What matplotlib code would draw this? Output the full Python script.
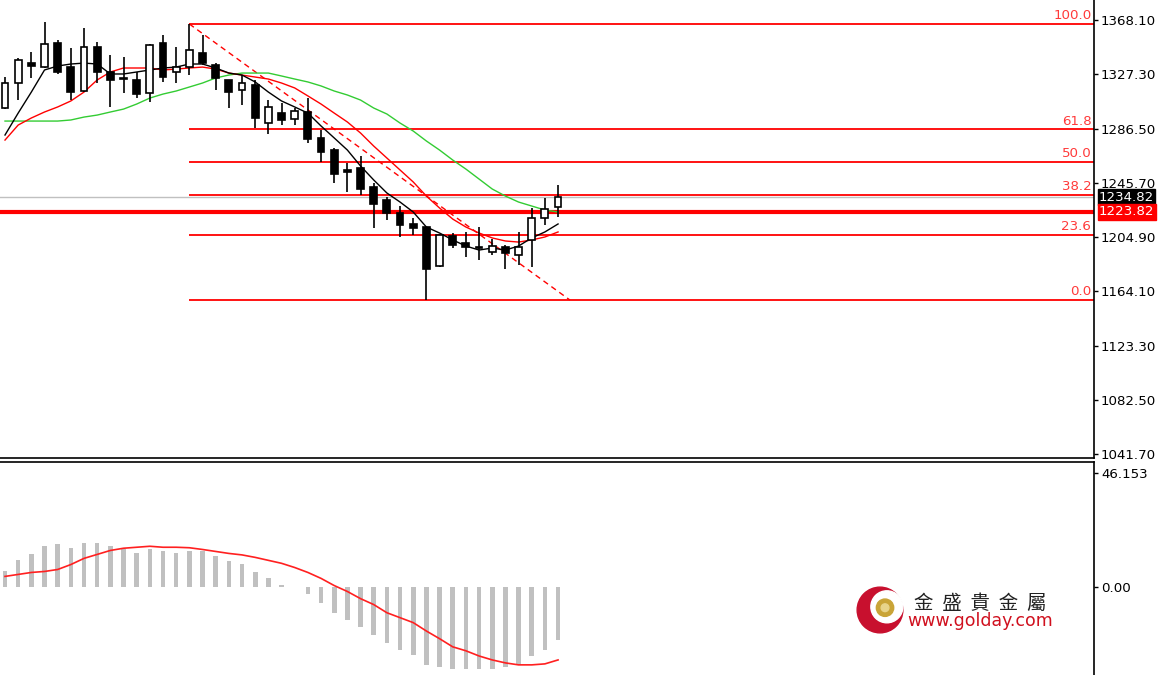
import numpy as np
import matplotlib.pyplot as plt
from matplotlib.patches import Circle

# candles (open, high, low, close)
opens = [1301.9, 1320.7, 1335.8, 1332.8, 1350.8, 1332.8, 1314.7, 1347.8, 1329.0, 1324.5,
         1323.0, 1313.2, 1350.8, 1329.0, 1332.8, 1343.3, 1334.3, 1323.0, 1315.5, 1319.2,
         1290.6, 1298.2, 1293.7, 1298.9, 1279.4, 1270.3, 1255.3, 1256.8, 1242.5, 1232.7,
         1222.9, 1214.7, 1212.4, 1183.1, 1205.7, 1200.4, 1197.4, 1193.6, 1197.4, 1191.4,
         1202.7, 1219.2, 1227.5]
highs = [1325.2, 1339.5, 1344.0, 1366.6, 1353.1, 1347.0, 1362.1, 1351.6, 1341.8, 1340.3,
         1329.0, 1350.0, 1356.8, 1347.8, 1365.1, 1356.8, 1335.8, 1323.0, 1326.7, 1323.0,
         1307.9, 1305.7, 1301.9, 1309.4, 1285.4, 1271.8, 1260.6, 1265.8, 1245.5, 1235.0,
         1228.2, 1219.2, 1212.4, 1206.4, 1207.9, 1208.7, 1212.4, 1203.4, 1198.9, 1208.7,
         1226.7, 1234.2, 1244.0]
lows = [1301.0, 1307.9, 1324.5, 1332.0, 1327.5, 1307.9, 1314.0, 1320.7, 1302.7, 1313.2,
        1309.4, 1306.4, 1321.5, 1320.7, 1326.7, 1334.3, 1315.5, 1301.9, 1304.2, 1286.9,
        1282.4, 1289.1, 1289.1, 1275.6, 1261.3, 1245.5, 1238.8, 1236.5, 1211.7, 1217.7,
        1204.9, 1206.4, 1157.5, 1182.4, 1196.6, 1189.9, 1187.6, 1191.4, 1180.9, 1183.9,
        1182.4, 1213.9, 1219.9]
closes = [1320.7, 1338.0, 1333.5, 1350.0, 1329.0, 1313.9, 1347.8, 1329.0, 1323.0, 1323.7,
          1312.5, 1349.3, 1325.2, 1332.8, 1345.5, 1335.8, 1324.5, 1313.9, 1320.7, 1294.4,
          1302.7, 1292.9, 1299.7, 1278.6, 1268.8, 1252.3, 1253.8, 1241.0, 1229.7, 1222.9,
          1213.9, 1211.7, 1180.9, 1206.4, 1198.9, 1197.4, 1196.6, 1198.1, 1192.9, 1197.4,
          1219.2, 1226.0, 1234.8]

# moving averages as drawn
ma_black = [1281.6, 1298.1, 1313.9, 1330.5, 1333.5, 1335.0, 1335.7, 1335.0, 1327.5, 1327.5,
            1329.0, 1330.5, 1332.0, 1332.7, 1335.0, 1335.0, 1332.0, 1328.2, 1326.7, 1321.5,
            1313.9, 1307.2, 1302.7, 1298.1, 1288.4, 1279.4, 1270.3, 1258.3, 1247.8, 1238.0,
            1231.2, 1223.7, 1212.4, 1207.9, 1202.7, 1198.1, 1195.1, 1196.6, 1195.1, 1198.1,
            1204.2, 1208.7, 1214.7]
ma_red = [1277.8, 1289.1, 1294.4, 1298.9, 1302.7, 1307.2, 1313.9, 1323.0, 1329.0, 1332.0,
          1332.0, 1332.0, 1330.5, 1331.2, 1332.0, 1332.7, 1331.2, 1328.2, 1326.7, 1325.2,
          1323.7, 1320.7, 1317.0, 1311.0, 1304.9, 1298.1, 1291.4, 1283.1, 1273.3, 1264.3,
          1255.3, 1246.3, 1235.7, 1226.7, 1218.4, 1212.4, 1207.9, 1204.2, 1201.9, 1201.1,
          1202.7, 1204.9, 1208.7]
ma_green = [1292.1, 1292.1, 1292.1, 1292.1, 1292.1, 1292.9, 1295.1, 1296.6, 1298.9, 1301.1,
            1304.9, 1309.4, 1312.4, 1314.7, 1317.7, 1320.7, 1324.5, 1326.7, 1328.2, 1328.2,
            1328.2, 1326.0, 1323.7, 1321.5, 1318.5, 1314.7, 1311.7, 1307.9, 1301.9, 1297.4,
            1290.6, 1284.6, 1277.1, 1270.3, 1262.8, 1256.0, 1248.5, 1241.0, 1235.7, 1231.2,
            1228.2, 1225.2, 1223.7]

# MACD histogram and signal
macd = [6.4, 10.8, 13.5, 16.6, 17.6, 15.9, 18.0, 18.0, 16.6, 15.2,
        13.9, 15.2, 14.6, 13.9, 14.6, 14.6, 12.5, 10.5, 9.4, 6.0,
        3.7, 1.0, 0.2, -3.0, -6.3, -10.4, -13.2, -16.1, -19.3, -22.6,
        -25.4, -27.4, -31.5, -32.3, -33.1, -33.1, -33.1, -33.1, -32.3, -31.5,
        -27.9, -25.4, -21.3]
signal = [4.3, 5.1, 5.9, 6.3, 7.1, 9.1, 11.6, 13.2, 14.8, 15.7,
          16.1, 16.5, 16.1, 16.1, 15.9, 15.2, 14.4, 13.6, 13.0, 12.0,
          10.8, 9.6, 7.9, 5.9, 3.5, 0.6, -1.8, -4.7, -7.1, -10.4,
          -12.4, -14.4, -17.8, -20.9, -24.2, -25.8, -27.9, -29.5, -30.7, -31.5,
          -31.5, -31.1, -29.5]

fib_levels = [0.0, 23.6, 38.2, 50.0, 61.8, 100.0]
fib_low, fib_high = 1157.5, 1365.1
fib_start = 14
price_ticks = [1368.10, 1327.30, 1286.50, 1245.70, 1204.90, 1164.10, 1123.30, 1082.50, 1041.70]
bid, line_price = 1234.82, 1223.82

W, H = 1161, 675
fig = plt.figure(figsize=(W / 100, H / 100), dpi=100)
fig.patch.set_facecolor('white')

ax = fig.add_axes([0, (H - 458) / H, 1094 / W, 458 / H])
ax2 = fig.add_axes([0, 0, 1094 / W, (H - 462) / H])

x = np.arange(len(opens))
xlim = (-0.38, 82.7)
lab = 9.6

# fib / horizontal lines
ax.axhline(bid, color='#c0c0c0', lw=1, zorder=1)
for lv in fib_levels:
    p = fib_low + (fib_high - fib_low) * lv / 100
    ax.hlines(p, fib_start, xlim[1], color='red', lw=1.3, zorder=2)
    ax.text(xlim[1] - 0.2, p + 1.2, f'{lv:.1f}', color='#ff3a3a', ha='right', va='bottom',
            fontsize=lab, zorder=5)
ax.axhline(line_price, color='red', lw=3, zorder=2)
ax.plot([fib_start, 42.9], [fib_high, fib_low], color='red', lw=1, ls=(0, (4, 3)), zorder=2)

# moving averages
ax.plot(x, ma_green, color='#33cc33', lw=1, zorder=3)
ax.plot(x, ma_red, color='red', lw=1, zorder=3)
ax.plot(x, ma_black, color='black', lw=1, zorder=3)

# candles
o = np.array(opens); c = np.array(closes)
ax.vlines(x, lows, highs, color='black', lw=1.2, zorder=4)
bottom = np.minimum(o, c)
height = np.maximum(np.abs(c - o), 0.8)
face = ['white' if cc >= oo else 'black' for oo, cc in zip(o, c)]
ax.bar(x, height, bottom=bottom, width=0.52, color=face, edgecolor='black', lw=1.2, zorder=5)

ax.set_xlim(*xlim)
ax.set_ylim(1038.7, 1383.14)
ax.set_xticks([])
ax.yaxis.tick_right()
ax.set_yticks(price_ticks)
ax.set_yticklabels([f'{t:.2f}' for t in price_ticks])
ax.tick_params(axis='y', length=3, width=1, pad=2, labelsize=lab, colors='black')
for s in ['top', 'left']:
    ax.spines[s].set_visible(False)
ax.spines['right'].set_linewidth(1.2)
ax.spines['bottom'].set_linewidth(1.2)

ax.annotate(f'{bid:.2f}', xy=(1.0, bid), xycoords=('axes fraction', 'data'),
            xytext=(3.5, 0), textcoords='offset points', va='center', ha='left',
            fontsize=lab, color='white', annotation_clip=False,
            bbox=dict(boxstyle='square,pad=0.1', fc='black', ec='black'))
ax.annotate(f'{line_price:.2f}', xy=(1.0, line_price), xycoords=('axes fraction', 'data'),
            xytext=(3.5, 0), textcoords='offset points', va='center', ha='left',
            fontsize=lab, color='white', annotation_clip=False,
            bbox=dict(boxstyle='square,pad=0.1', fc='red', ec='red'))

# MACD
ax2.bar(x, macd, width=0.35, color='#c0c0c0', zorder=2)
ax2.plot(x, signal, color='#ff2020', lw=1.2, zorder=3)
ax2.set_xlim(*xlim)
ax2.set_ylim(-35.6, 50.6)
ax2.set_xticks([])
ax2.yaxis.tick_right()
ax2.set_yticks([46.153, 0])
ax2.set_yticklabels(['46.153', '0.00'])
ax2.tick_params(axis='y', length=3, width=1, pad=2, labelsize=lab)
for s in ['bottom', 'left']:
    ax2.spines[s].set_visible(False)
ax2.spines['right'].set_linewidth(1.2)
ax2.spines['top'].set_linewidth(1.2)

# logo
lax = fig.add_axes([856 / W, 1 - 634 / H, 48 / W, 48 / H])
lax.set_xlim(-1.05, 1.05); lax.set_ylim(-1.05, 1.05); lax.set_aspect('equal'); lax.axis('off')
lax.add_patch(Circle((0, 0), 1.0, color='#c8102e'))
lax.add_patch(Circle((0.3, 0.14), 0.7, color='white'))
lax.add_patch(Circle((0.22, 0.1), 0.38, color='#c9a437'))
lax.add_patch(Circle((0.22, 0.1), 0.17, color='#e8d48a'))

fig.text(980 / W, 1 - 603 / H, '金  盛  貴  金  屬', family=['Noto Sans CJK TC', 'DejaVu Sans'],
         fontsize=14, color='#222222', ha='center', va='center')
fig.text(980 / W, 1 - 621 / H, 'www.golday.com', fontsize=12.5, color='#d0101e',
         ha='center', va='center')

fig.savefig('out.png', dpi=100)
